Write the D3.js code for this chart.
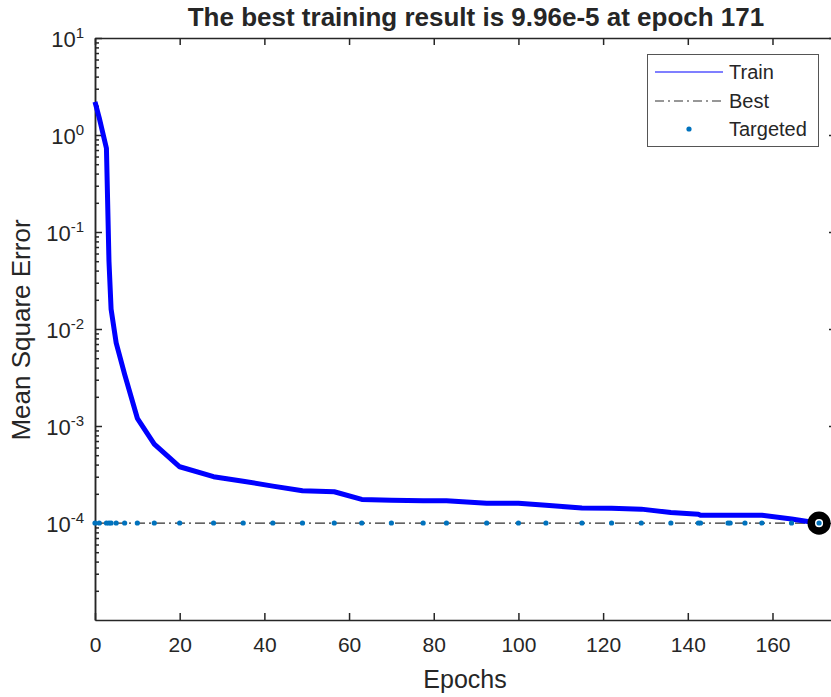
<!DOCTYPE html>
<html>
<head>
<meta charset="utf-8">
<script src="https://cdn.jsdelivr.net/npm/d3@7"></script>
<style>
  html, body { margin: 0; padding: 0; background: #fff; }
  svg { display: block; }
  text { font-family: "Liberation Sans", Arial, Helvetica, sans-serif; fill: #262626; }
</style>
</head>
<body>
<svg id="chart" width="831" height="697"></svg>
<script>
// ---- data ----
const epochs   = [0, 1, 2.7, 3.3, 3.8, 5, 7, 10, 14, 20, 28, 35, 42, 49, 56.5, 63, 70, 77.5, 83, 92.5, 100, 106.5, 115, 122, 129, 136, 142.5, 143, 149.5, 150, 153.5, 157.5, 164.5, 171];
const trainMSE = [2.2, 1.5, 0.73, 0.05, 0.016, 0.0072, 0.0034, 0.0012, 0.00065, 0.00038, 0.0003, 0.00027, 0.00024, 0.000215, 0.00021, 0.000175, 0.000172, 0.00017, 0.00017, 0.00016, 0.00016, 0.000152, 0.000143, 0.000142, 0.000139, 0.000128, 0.000123, 0.00012, 0.00012, 0.00012, 0.00012, 0.00012, 0.00011, 0.0000996];
const targetedEpochs = [0, 1, 2.7, 3.3, 3.8, 5, 7, 10, 14, 20, 28, 35, 42, 49, 56.5, 63, 70, 77.5, 83, 92.5, 100, 106.5, 115, 122, 129, 136, 142.5, 143, 149.5, 150, 153.5, 157.5, 164.5, 171];
const targetValue = 1e-4;
const bestEpoch = 171;
const bestValue = 9.96e-5;
const xTicks = [0, 20, 40, 60, 80, 100, 120, 140, 160];
const yTicks = [1e-4, 1e-3, 1e-2, 1e-1, 1e0, 1e1];
const yExponents = [-4, -3, -2, -1, 0, 1];
const legendLabels = ["Train", "Best", "Targeted"];
const titleText = "The best training result is 9.96e-5 at epoch 171";
const xLabel = "Epochs";
const yLabel = "Mean Square Error";

// ---- layout ----
const L = 95, R = 836, T = 38, B = 620;
const svg = d3.select("#chart");
const x = d3.scaleLinear().domain([0, 175]).range([L, R]);
const y = d3.scaleLog().domain([1e-5, 10]).range([B, T]);

const axisColor = "#262626";
const minorTicks = y.ticks().filter(v => !yTicks.includes(v) && v > 1e-5 && v < 10);

function styleAxis(g) {
  g.select(".domain").attr("stroke", axisColor).attr("stroke-width", 1.5);
  g.selectAll(".tick line").attr("stroke", axisColor).attr("stroke-width", 1.5);
}

// bottom axis
const gx = svg.append("g").attr("transform", `translate(0,${B})`)
  .call(d3.axisBottom(x).tickValues(xTicks).tickSizeInner(-7).tickSizeOuter(0).tickPadding(0).tickFormat(d3.format("d")));
styleAxis(gx);
gx.selectAll(".tick text").attr("font-size", 21).attr("fill", axisColor).attr("y", 32).attr("dy", 0)
  .style("font-family", '"Liberation Sans", Arial, sans-serif');

// top axis
const gxt = svg.append("g").attr("transform", `translate(0,${T})`)
  .call(d3.axisTop(x).tickValues(xTicks).tickSizeInner(-7).tickSizeOuter(0).tickFormat(""));
styleAxis(gxt);

// left axis major
const gy = svg.append("g").attr("transform", `translate(${L},0)`)
  .call(d3.axisLeft(y).tickValues(yTicks).tickSizeInner(-7).tickSizeOuter(0).tickPadding(0).tickFormat(""));
styleAxis(gy);
gy.selectAll(".tick").each(function(d, i) {
  const t = d3.select(this).append("text")
    .attr("x", -11).attr("y", 0).attr("dy", "0.38em")
    .attr("text-anchor", "end").attr("font-size", 22).attr("fill", axisColor);
  t.append("tspan").text("10");
  t.append("tspan").attr("dy", -9).attr("font-size", 15).text(yExponents[i]);
});
// left minor
const gym = svg.append("g").attr("transform", `translate(${L},0)`)
  .call(d3.axisLeft(y).tickValues(minorTicks).tickSizeInner(-4).tickSizeOuter(0).tickFormat(""));
styleAxis(gym);

// right axis
const gyr = svg.append("g").attr("transform", `translate(${R},0)`)
  .call(d3.axisRight(y).tickValues(yTicks).tickSizeInner(-7).tickSizeOuter(0).tickFormat(""));
styleAxis(gyr);
const gyrm = svg.append("g").attr("transform", `translate(${R},0)`)
  .call(d3.axisRight(y).tickValues(minorTicks).tickSizeInner(-4).tickSizeOuter(0).tickFormat(""));
styleAxis(gyrm);

// best line
svg.append("line")
  .attr("x1", x(0)).attr("x2", x(bestEpoch))
  .attr("y1", y(bestValue)).attr("y2", y(bestValue))
  .attr("stroke", "#303030").attr("stroke-width", 1.4)
  .attr("stroke-dasharray", "10,4,2,4");

// train line
const line = d3.line().x((d, i) => x(epochs[i])).y(d => y(d));
svg.append("path").datum(trainMSE)
  .attr("d", line)
  .attr("fill", "none").attr("stroke", "#0000ff").attr("stroke-width", 5)
  .attr("stroke-linejoin", "round");

// best marker
svg.append("circle")
  .attr("cx", x(bestEpoch)).attr("cy", y(bestValue)).attr("r", 7.8)
  .attr("fill", "#fff").attr("stroke", "#000").attr("stroke-width", 7.5);

// targeted dots
svg.append("g").selectAll("circle").data(targetedEpochs).join("circle")
  .attr("cx", d => x(d)).attr("cy", y(targetValue)).attr("r", 2.6)
  .attr("fill", "#0072BD");

// title
svg.append("text").attr("x", 476).attr("y", 26).attr("text-anchor", "middle")
  .attr("font-size", 26).attr("font-weight", "bold").attr("fill", "#000").text(titleText);

// axis labels
svg.append("text").attr("x", 465).attr("y", 688).attr("text-anchor", "middle")
  .attr("font-size", 25).attr("fill", axisColor).text(xLabel);
svg.append("text").attr("transform", "translate(30,330) rotate(-90)").attr("text-anchor", "middle")
  .attr("font-size", 26).attr("fill", axisColor).text(yLabel);

// legend
const lg = svg.append("g");
lg.append("rect").attr("x", 647.5).attr("y", 54.5).attr("width", 171).attr("height", 92)
  .attr("fill", "#fff").attr("stroke", "#555").attr("stroke-width", 1);
const rowsY = [72, 101, 129];
lg.append("line").attr("x1", 655).attr("x2", 723).attr("y1", rowsY[0]).attr("y2", rowsY[0])
  .attr("stroke", "#0000ff").attr("stroke-width", 1.2);
lg.append("line").attr("x1", 655).attr("x2", 723).attr("y1", rowsY[1]).attr("y2", rowsY[1])
  .attr("stroke", "#303030").attr("stroke-width", 1.2).attr("stroke-dasharray", "9,4,2,4");
lg.append("circle").attr("cx", 689).attr("cy", rowsY[2]).attr("r", 2.6).attr("fill", "#0072BD");
lg.selectAll("text.lbl").data(legendLabels).join("text").attr("class", "lbl")
  .attr("x", 729).attr("y", (d, i) => rowsY[i]).attr("dy", "0.36em")
  .attr("font-size", 20).attr("fill", "#000").text(d => d);
</script>
</body>
</html>
